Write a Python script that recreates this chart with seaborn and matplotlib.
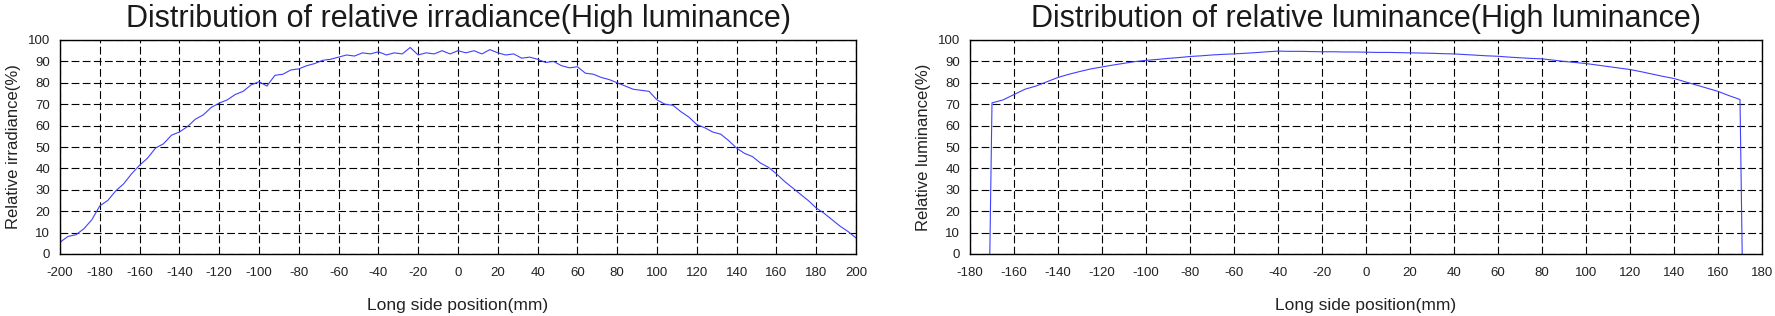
"""
Relative irradiance / luminance distribution along the long side.
"""
import matplotlib

matplotlib.use("Agg")
import matplotlib.pyplot as plt
import seaborn as sns

# left chart: irradiance, read every 4 mm
irr_x = list(range(-200, 201, 4))
irr_y = [
    5.5, 8.2, 9.0, 11.8, 16.0, 22.5, 25.0, 29.5, 32.8, 37.5,
    41.5, 44.8, 49.5, 51.5, 55.5, 57.0, 59.5, 63.0, 65.0, 68.5,
    70.5, 72.0, 74.5, 76.0, 79.0, 80.5, 78.5, 83.5, 84.0, 86.0,
    86.5, 88.0, 89.0, 90.5, 91.0, 92.0, 93.0, 92.5, 94.0, 93.5,
    94.5, 93.0, 94.0, 93.5, 96.5, 93.0, 94.0, 93.5, 95.0, 93.5,
    95.0, 94.0, 95.0, 93.5, 95.5, 94.0, 93.0, 93.5, 91.5, 92.0,
    91.0, 89.5, 90.0, 88.0, 87.0, 87.5, 84.5, 84.0, 82.5, 81.5,
    80.0, 78.5, 77.0, 76.5, 76.0, 72.0, 70.0, 69.5, 66.5, 64.0,
    60.5, 59.0, 57.0, 56.0, 53.0, 49.5, 47.0, 45.5, 42.5, 40.5,
    37.5, 34.0, 31.0, 28.0, 25.0, 21.5, 19.0, 16.0, 13.0, 10.5,
    7.5,
]

# right chart: luminance, read every 5 mm, with the vertical edges
lum_x = [-171] + list(range(-170, 171, 5)) + [171]
lum_y = [
    0.0,
    70.6, 72.0, 74.5, 77.0, 78.5, 80.5, 82.5, 84.0, 85.3, 86.5,
    87.4, 88.3, 89.1, 89.9, 90.5, 90.9, 91.4, 91.8, 92.3, 92.6,
    93.0, 93.3, 93.5, 93.8, 94.1, 94.5, 94.8, 94.7, 94.7, 94.6,
    94.5, 94.5, 94.4, 94.4, 94.3, 94.2, 94.2, 94.1, 94.0, 93.9,
    93.8, 93.6, 93.5, 93.2, 92.9, 92.6, 92.4, 92.0, 91.7, 91.4,
    91.2, 90.6, 90.0, 89.5, 89.0, 88.3, 87.6, 86.9, 86.2, 85.2,
    84.1, 83.0, 82.0, 80.5, 79.0, 77.5, 76.0, 74.0, 72.2,
    0.0,
]

panels = [
    dict(x=irr_x, y=irr_y, xlim=(-200, 200),
         title="Distribution of relative irradiance(High luminance)",
         ylabel="Relative irradiance(%)",
         rect=[60 / 1775, 62 / 316, 796 / 1775, 214 / 316]),
    dict(x=lum_x, y=lum_y, xlim=(-180, 180),
         title="Distribution of relative luminance(High luminance)",
         ylabel="Relative luminance(%)",
         rect=[970 / 1775, 62 / 316, 792 / 1775, 214 / 316]),
]

sns.set_style("white")
plt.rcParams["font.family"] = ["Liberation Sans", "DejaVu Sans"]
plt.rcParams["axes.unicode_minus"] = False

fig = plt.figure(figsize=(17.75, 3.16), dpi=100)

for p in panels:
    ax = fig.add_axes(p["rect"])
    sns.lineplot(x=p["x"], y=p["y"], ax=ax, sort=False, estimator=None,
                 color="#4040ff", linewidth=0.8)
    ax.set_xlim(*p["xlim"])
    ax.set_ylim(0, 100)
    ax.set_xticks(range(p["xlim"][0], p["xlim"][1] + 1, 20))
    ax.set_yticks(range(0, 101, 10))
    ax.grid(True, color="black", linestyle=(0, (7, 3)), linewidth=0.8)
    ax.tick_params(length=0, labelsize=9.5, labelcolor="#222222", pad=7)
    ax.tick_params(axis="x", pad=9)
    for s in ax.spines.values():
        s.set_color("black")
        s.set_linewidth(1.0)
    ax.set_title(p["title"], fontsize=22, color="#1a1a1a", pad=9)
    ax.set_xlabel("Long side position(mm)", fontsize=12.5, color="#222222",
                  labelpad=14)
    ax.set_ylabel(p["ylabel"], fontsize=12, color="#222222", labelpad=5)

fig.savefig("out.png", dpi=100)
